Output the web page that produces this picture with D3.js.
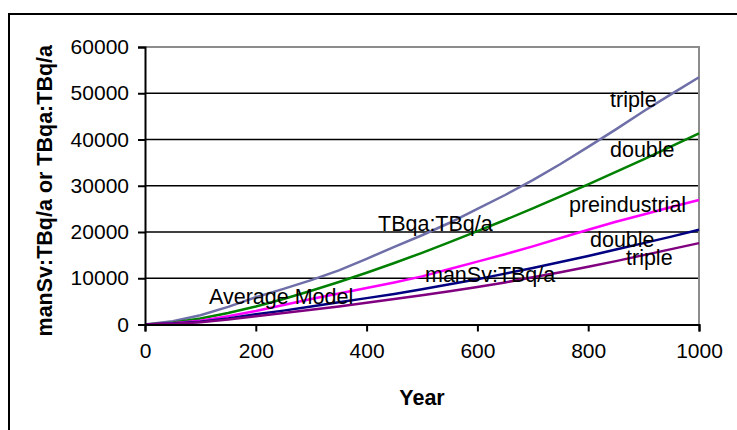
<!DOCTYPE html>
<html>
<head>
<meta charset="utf-8">
<script src="https://cdn.jsdelivr.net/npm/d3@7"></script>
<style>
  body { margin: 0; background: #fff; }
  svg { display: block; font-family: "Liberation Sans", Arial, sans-serif; }
</style>
</head>
<body>
<div id="chart"></div>
<script>
// years sampled every 50
const years = [0, 50, 100, 150, 200, 250, 300, 350, 400, 450, 500,
  550, 600, 650, 700, 750, 800, 850, 900, 950, 1000];

// TBqa:TBq/a
const tbqaTriple = [0, 700, 2000, 3800, 5900, 7700, 9600, 11700, 14200, 16800, 19300,
  22000, 25000, 28000, 31200, 34700, 38400, 42200, 46100, 49800, 53450];
const tbqaDouble = [0, 400, 1300, 2500, 3900, 5500, 7300, 9200, 11200, 13300, 15500,
  17800, 20200, 22600, 25100, 27700, 30300, 33000, 35700, 38500, 41340];
const preindustrial = [0, 250, 800, 1800, 2900, 4200, 5500, 6700, 7900, 9100, 10400,
  12000, 13600, 15200, 16900, 18700, 20500, 22200, 23800, 25400, 26920];
// manSv:TBq/a
const mansvDouble = [0, 200, 600, 1300, 2200, 3000, 3900, 4800, 5700, 6600, 7600,
  8700, 9800, 11000, 12200, 13500, 14800, 16200, 17600, 19000, 20500];
const mansvTriple = [0, 150, 500, 1100, 1800, 2500, 3200, 3900, 4700, 5500, 6300,
  7200, 8100, 9100, 10200, 11300, 12500, 13700, 15000, 16300, 17600];

const yTicks = [0, 10000, 20000, 30000, 40000, 50000, 60000];
const xTicks = [0, 200, 400, 600, 800, 1000];

const series = [
  { name: "tbqaTriple", values: tbqaTriple, color: "#6e6ea8" },
  { name: "tbqaDouble", values: tbqaDouble, color: "#008000" },
  { name: "preindustrial", values: preindustrial, color: "#ff00ff" },
  { name: "mansvDouble", values: mansvDouble, color: "#000080" },
  { name: "mansvTriple", values: mansvTriple, color: "#800080" }
];

const labels = [
  { text: "triple", x: 610, y: 107 },
  { text: "double", x: 610, y: 157 },
  { text: "preindustrial", x: 569, y: 212 },
  { text: "TBqa:TBq/a", x: 378, y: 231 },
  { text: "double", x: 590, y: 247 },
  { text: "triple", x: 626, y: 265 },
  { text: "manSv:TBq/a", x: 425, y: 282 },
  { text: "Average Model", x: 209, y: 304 }
];

const W = 737, H = 430;
const margin = { top: 47, right: 38, bottom: 105.5, left: 145 };
const width = W - margin.left - margin.right;
const height = H - margin.top - margin.bottom;

const svg = d3.select("#chart").append("svg")
  .attr("width", W).attr("height", H);

// outer frame
svg.append("rect")
  .attr("x", 9).attr("y", 14)
  .attr("width", 760).attr("height", 460)
  .attr("fill", "none").attr("stroke", "#000").attr("stroke-width", 2);

const g = svg.append("g")
  .attr("transform", `translate(${margin.left},${margin.top})`);

const x = d3.scaleLinear().domain([0, 1000]).range([0, width]);
const y = d3.scaleLinear().domain([0, 60000]).range([height, 0]);

// gridlines
g.append("g").selectAll("line")
  .data(yTicks.filter(d => d > 0 && d < 60000))
  .join("line")
  .attr("x1", 0).attr("x2", width)
  .attr("y1", d => y(d)).attr("y2", d => y(d))
  .attr("stroke", "#000").attr("stroke-width", 1.5);

// plot border (top + right), gray
g.append("path")
  .attr("d", `M0,${y(60000)}H${width}V${height}`)
  .attr("fill", "none").attr("stroke", "#8c8c8c").attr("stroke-width", 2);

// lines
const line = d3.line()
  .x((d, i) => x(years[i]))
  .y(d => y(d));

g.selectAll(".series")
  .data(series)
  .join("path")
  .attr("class", "series")
  .attr("d", d => line(d.values))
  .attr("fill", "none")
  .attr("stroke", d => d.color)
  .attr("stroke-width", 2.5);

// axes
const yAxis = g.append("g")
  .call(d3.axisLeft(y).tickValues(yTicks).tickSize(7).tickPadding(9).tickFormat(d3.format("d")));
const xAxis = g.append("g")
  .attr("transform", `translate(0,${height})`)
  .call(d3.axisBottom(x).tickValues(xTicks).tickSize(7).tickPadding(12).tickFormat(d3.format("d")));

[xAxis, yAxis].forEach(a => {
  a.select(".domain").attr("stroke", "#000").attr("stroke-width", 2);
  a.selectAll(".tick line").attr("stroke", "#000").attr("stroke-width", 2);
  a.selectAll("text").attr("fill", "#000")
    .style("font-size", "21px").style("font-family", "Liberation Sans, Arial, sans-serif");
});

// inline labels
svg.append("g").selectAll("text")
  .data(labels)
  .join("text")
  .attr("x", d => d.x).attr("y", d => d.y)
  .attr("font-size", 21.5)
  .attr("fill", "#000")
  .text(d => d.text);

// axis titles
svg.append("text")
  .attr("x", margin.left + width / 2).attr("y", 405)
  .attr("text-anchor", "middle")
  .attr("font-size", 21.5).attr("font-weight", "bold")
  .text("Year");

svg.append("text")
  .attr("transform", `translate(52,${margin.top + height / 2 + 5}) rotate(-90)`)
  .attr("text-anchor", "middle")
  .attr("font-size", 21.5).attr("font-weight", "bold")
  .text("manSv:TBq/a or TBqa:TBq/a");
</script>
</body>
</html>
